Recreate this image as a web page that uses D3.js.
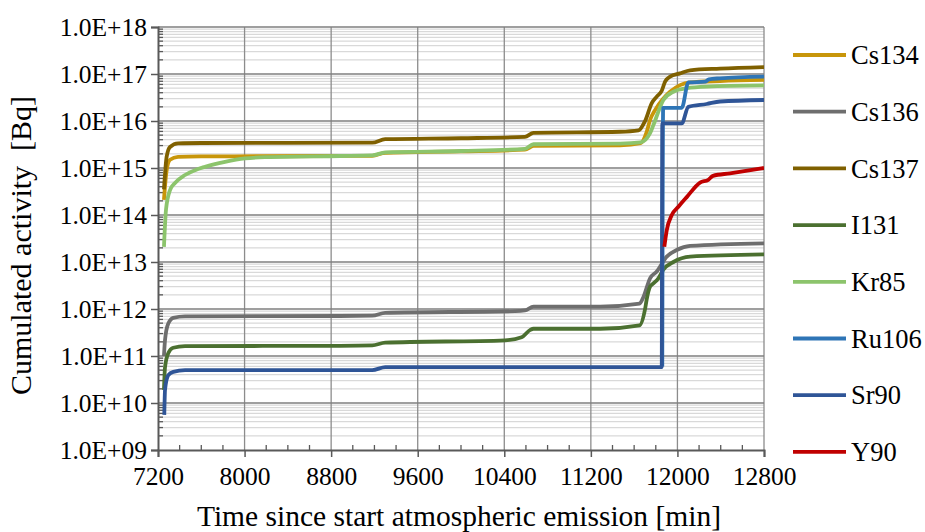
<!DOCTYPE html>
<html>
<head>
<meta charset="utf-8">
<script src="https://cdn.jsdelivr.net/npm/d3@7"></script>
<style>
    html, body { margin: 0; padding: 0; background: #fff; }
    svg { display: block; font-family: "Liberation Serif", "Times New Roman", serif; }
</style>
</head>
<body>
<svg id="chart" width="925" height="532"></svg>
<script>
(function (window, d3) {
    "use strict";

    // 数据 [时间(min), 累计活度(Bq)]
    var cs134 = [[7255, 2.1e14], [7280, 9e14], [7311, 1.5e15], [7385, 1.72e15], [7600, 1.76e15], [8800, 1.8e15], [9180, 1.82e15], [9300, 2.1e15], [10000, 2.25e15], [10590, 2.45e15], [10670, 2.95e15], [11470, 3.05e15], [11660, 3.4e15], [11716, 5.9e15], [11747, 1.05e16], [11793, 1.7e16], [11870, 3.0e16], [11932, 4.2e16], [12024, 5.8e16], [12117, 6.6e16], [12394, 7.1e16], [12800, 7.5e16]];
    var cs136 = [[7255, 1e11], [7265, 2.2e11], [7295, 4.9e11], [7341, 6.5e11], [7450, 7.0e11], [8880, 7.1e11], [9180, 7.2e11], [9300, 8.3e11], [10500, 9.0e11], [10590, 9.3e11], [10670, 1.12e12], [11285, 1.12e12], [11650, 1.3e12], [11686, 1.8e12], [11747, 4.5e12], [11809, 6.3e12], [11901, 1.3e13], [11994, 1.8e13], [12117, 2.2e13], [12800, 2.5e13]];
    var cs137 = [[7255, 3.5e14], [7280, 1.74e15], [7311, 2.8e15], [7385, 3.35e15], [7600, 3.4e15], [9180, 3.45e15], [9300, 4.1e15], [10000, 4.3e15], [10590, 4.6e15], [10670, 5.6e15], [11470, 5.9e15], [11640, 6.3e15], [11701, 1.0e16], [11763, 2.4e16], [11809, 3.3e16], [11855, 4.4e16], [11886, 6.9e16], [11932, 8.8e16], [12024, 1.03e17], [12117, 1.2e17], [12394, 1.3e17], [12800, 1.4e17]];
    var i131 = [[7255, 1.9e10], [7265, 5.8e10], [7295, 1.15e11], [7341, 1.5e11], [7450, 1.62e11], [8880, 1.65e11], [9180, 1.68e11], [9300, 1.92e11], [10407, 2.16e11], [10560, 2.5e11], [10640, 3.6e11], [10670, 3.8e11], [11285, 3.8e11], [11650, 4.5e11], [11701, 1.0e12], [11716, 1.6e12], [11747, 3.0e12], [11778, 3.5e12], [11824, 4.5e12], [11870, 6.9e12], [11963, 1.0e13], [12117, 1.3e13], [12800, 1.45e13]];
    var kr85 = [[7255, 2.1e13], [7274, 1.3e14], [7311, 3.4e14], [7357, 4.8e14], [7450, 7.1e14], [7542, 9e14], [7634, 1.06e15], [7819, 1.35e15], [8004, 1.6e15], [8189, 1.7e15], [8880, 1.8e15], [9180, 1.85e15], [9300, 2.15e15], [10000, 2.3e15], [10590, 2.55e15], [10670, 3.2e15], [11470, 3.3e15], [11660, 3.5e15], [11747, 5.5e15], [11778, 8.2e15], [11870, 2.8e16], [11963, 4.2e16], [12086, 5.0e16], [12270, 5.4e16], [12800, 5.7e16]];
    var ru106 = [[11860, 6e10], [11868, 1.9e16], [12040, 1.9e16], [12101, 6.6e16], [12260, 6.9e16], [12290, 7.7e16], [12394, 8.1e16], [12800, 8.8e16]];
    var sr90 = [[7258, 5.6e9], [7265, 1.9e10], [7295, 3.9e10], [7341, 4.6e10], [7450, 5.0e10], [9180, 5.0e10], [9300, 5.8e10], [11855, 5.8e10], [11860, 8.9e15], [12040, 8.9e15], [12101, 2.0e16], [12270, 2.3e16], [12394, 2.6e16], [12800, 2.8e16]];
    var y90 = [[11879, 2.1e13], [11901, 4.7e13], [11948, 1.0e14], [12009, 1.5e14], [12086, 2.4e14], [12209, 4.9e14], [12285, 5.6e14], [12329, 6.8e14], [12486, 7.7e14], [12800, 1.0e15]];

    var names = ["Cs134", "Cs136", "Cs137", "I131", "Kr85", "Ru106", "Sr90", "Y90"];
    var colors = ["#c8960a", "#6e6e6e", "#7f6000", "#4b7030", "#8cc46c", "#2e75b6", "#2f5597", "#c00000"];
    var xTicks = [7200, 8000, 8800, 9600, 10400, 11200, 12000, 12800];
    var yTicks = [1e9, 1e10, 1e11, 1e12, 1e13, 1e14, 1e15, 1e16, 1e17, 1e18];

    var seriesList = [cs134, cs136, cs137, i131, kr85, ru106, sr90, y90];

    var box = {left: 158, right: 764, top: 27, bottom: 450};
    var svg = d3.select("#chart");

    var x = d3.scaleLinear().domain([7200, 12800]).range([box.left, box.right]);
    var y = d3.scaleLog().domain([1e9, 1e18]).range([box.bottom, box.top]);

    // 网格线
    var minorVals = [];
    yTicks.slice(0, -1).forEach(function (d) {
        for (var k = 2; k < 10; k++) minorVals.push(d * k);
    });
    var grid = svg.append("g");
    grid.selectAll(".minor").data(minorVals).enter().append("line")
        .attr("x1", box.left).attr("x2", box.right)
        .attr("y1", function (d) { return y(d); }).attr("y2", function (d) { return y(d); })
        .style("stroke", "#d9d9d9").style("stroke-width", 1.3);
    grid.selectAll(".vmaj").data(xTicks.slice(1)).enter().append("line")
        .attr("y1", box.top).attr("y2", box.bottom)
        .attr("x1", function (d) { return x(d); }).attr("x2", function (d) { return x(d); })
        .style("stroke", "#8c8c8c").style("stroke-width", 1.3);
    grid.selectAll(".hmaj").data(yTicks.slice(1)).enter().append("line")
        .attr("x1", box.left).attr("x2", box.right)
        .attr("y1", function (d) { return y(d); }).attr("y2", function (d) { return y(d); })
        .style("stroke", "#7f7f7f").style("stroke-width", 1.6);

    // 坐标轴
    var fmt = function (d) {
        var e = Math.round(Math.log10(d));
        return "1.0E+" + (e < 10 ? "0" + e : e);
    };
    var yAxis = d3.axisLeft(y).tickValues(yTicks).tickFormat(fmt).tickSize(7).tickPadding(4);
    var xAxis = d3.axisBottom(x).tickValues(xTicks).tickFormat(d3.format("d")).tickSize(7).tickPadding(10);

    var gy = svg.append("g").attr("transform", "translate(" + box.left + ",0)").call(yAxis);
    var gx = svg.append("g").attr("transform", "translate(0," + box.bottom + ")").call(xAxis);
    [gx, gy].forEach(function (g) {
        g.select(".domain").style("stroke", "#595959").style("stroke-width", 2);
        g.selectAll(".tick line").style("stroke", "#595959").style("stroke-width", 1.5);
        g.selectAll(".tick text").style("font-family", "Liberation Serif").style("font-size", "25.5px").style("fill", "#000");
    });

    // 次刻度
    svg.append("g").selectAll("line").data(minorVals).enter().append("line")
        .attr("x1", box.left).attr("x2", box.left + 5)
        .attr("y1", function (d) { return y(d); }).attr("y2", function (d) { return y(d); })
        .style("stroke", "#595959").style("stroke-width", 1.3);
    svg.append("g").selectAll("line").data(d3.range(7400, 12800, 200).filter(function (d) { return (d - 7200) % 800 !== 0; }))
        .enter().append("line")
        .attr("y1", box.bottom - 5).attr("y2", box.bottom)
        .attr("x1", function (d) { return x(d); }).attr("x2", function (d) { return x(d); })
        .style("stroke", "#595959").style("stroke-width", 1.3);

    // 曲线
    svg.append("clipPath").attr("id", "clip").append("rect")
        .attr("x", box.left).attr("y", box.top)
        .attr("width", box.right - box.left).attr("height", box.bottom - box.top);

    var line = d3.line()
        .x(function (d) { return x(d[0]); })
        .y(function (d) { return y(d[1]); })
        .curve(d3.curveMonotoneX);

    svg.append("g").attr("clip-path", "url(#clip)").selectAll("path").data(seriesList).enter().append("path")
        .attr("d", line)
        .style("fill", "none")
        .style("stroke", function (d, i) { return colors[i]; })
        .style("stroke-width", 3.8)
        .style("stroke-linejoin", "round");

    // 图例
    var legend = svg.append("g").selectAll("g").data(names).enter().append("g")
        .attr("transform", function (d, i) { return "translate(793," + (55 + i * 56.7) + ")"; });
    legend.append("line").attr("x1", 0).attr("x2", 53)
        .style("stroke", function (d, i) { return colors[i]; }).style("stroke-width", 3.8);
    legend.append("text").attr("x", 58).attr("dy", "0.35em")
        .style("font-size", "26.5px").text(function (d) { return d; });

    // 轴标题
    svg.append("text").attr("x", (box.left + box.right) / 2 - 2).attr("y", 526)
        .attr("text-anchor", "middle").style("font-size", "29.5px")
        .text("Time since start atmospheric emission [min]");
    svg.append("text").attr("transform", "translate(31," + ((box.top + box.bottom) / 2 + 7) + ") rotate(-90)")
        .attr("text-anchor", "middle").style("font-size", "30px").style("white-space", "pre")
        .text("Cumulated activity  [Bq]");
})(window, d3);
</script>
</body>
</html>
